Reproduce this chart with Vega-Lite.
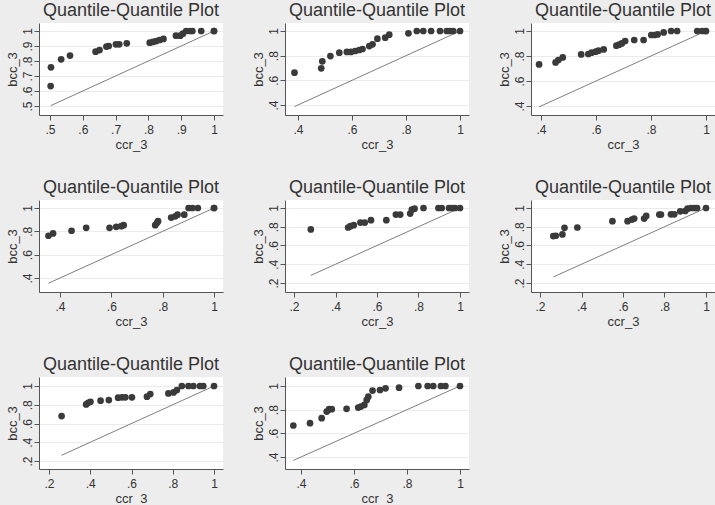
{
  "$schema": "https://vega.github.io/schema/vega-lite/v6.json",
  "background": "#ededed",
  "padding": {"left": 6, "top": 2, "right": 0, "bottom": 0},
  "bounds": "flush",
  "columns": 3,
  "spacing": {"row": 85, "column": 62},
  "config": {
    "font": "Liberation Sans",
    "view": {"fill": "white", "stroke": null},
    "title": {"fontSize": 18, "fontWeight": "normal", "color": "#333333", "offset": 3, "anchor": "middle"},
    "axis": {"domainColor": "#555555", "tickColor": "#555555", "tickSize": 5, "labelFontSize": 12, "titleFontSize": 13, "labelColor": "#333333", "titleColor": "#333333", "titleFontWeight": "normal", "labelPadding": 4, "labelOverlap": false, "labelFlush": false},
    "axisX": {"grid": false, "titlePadding": 3},
    "axisY": {"grid": true, "gridColor": "#ebebeb", "labelAngle": -90, "labelAlign": "center", "labelBaseline": "alphabetic", "labelPadding": 3, "titlePadding": 2}
  },
  "datasets": {
    "pts": [
      {"panel": 1, "ccr_3": 0.502, "bcc_3": 0.633},
      {"panel": 1, "ccr_3": 0.503, "bcc_3": 0.758},
      {"panel": 1, "ccr_3": 0.534, "bcc_3": 0.811},
      {"panel": 1, "ccr_3": 0.561, "bcc_3": 0.836},
      {"panel": 1, "ccr_3": 0.639, "bcc_3": 0.862},
      {"panel": 1, "ccr_3": 0.651, "bcc_3": 0.873},
      {"panel": 1, "ccr_3": 0.672, "bcc_3": 0.896},
      {"panel": 1, "ccr_3": 0.679, "bcc_3": 0.9},
      {"panel": 1, "ccr_3": 0.701, "bcc_3": 0.911},
      {"panel": 1, "ccr_3": 0.711, "bcc_3": 0.911},
      {"panel": 1, "ccr_3": 0.734, "bcc_3": 0.918},
      {"panel": 1, "ccr_3": 0.804, "bcc_3": 0.922},
      {"panel": 1, "ccr_3": 0.814, "bcc_3": 0.927},
      {"panel": 1, "ccr_3": 0.824, "bcc_3": 0.933},
      {"panel": 1, "ccr_3": 0.834, "bcc_3": 0.94},
      {"panel": 1, "ccr_3": 0.846, "bcc_3": 0.947},
      {"panel": 1, "ccr_3": 0.884, "bcc_3": 0.969},
      {"panel": 1, "ccr_3": 0.897, "bcc_3": 0.969},
      {"panel": 1, "ccr_3": 0.905, "bcc_3": 0.982},
      {"panel": 1, "ccr_3": 0.915, "bcc_3": 1.0},
      {"panel": 1, "ccr_3": 0.927, "bcc_3": 1.0},
      {"panel": 1, "ccr_3": 0.934, "bcc_3": 1.0},
      {"panel": 1, "ccr_3": 0.961, "bcc_3": 1.0},
      {"panel": 1, "ccr_3": 1.0, "bcc_3": 1.0},
      {"panel": 1, "ccr_3": 1.0, "bcc_3": 1.0},

      {"panel": 2, "ccr_3": 0.387, "bcc_3": 0.662},
      {"panel": 2, "ccr_3": 0.486, "bcc_3": 0.697},
      {"panel": 2, "ccr_3": 0.49, "bcc_3": 0.754},
      {"panel": 2, "ccr_3": 0.52, "bcc_3": 0.797},
      {"panel": 2, "ccr_3": 0.553, "bcc_3": 0.824},
      {"panel": 2, "ccr_3": 0.581, "bcc_3": 0.83},
      {"panel": 2, "ccr_3": 0.596, "bcc_3": 0.83},
      {"panel": 2, "ccr_3": 0.612, "bcc_3": 0.838},
      {"panel": 2, "ccr_3": 0.627, "bcc_3": 0.846},
      {"panel": 2, "ccr_3": 0.639, "bcc_3": 0.854},
      {"panel": 2, "ccr_3": 0.664, "bcc_3": 0.878},
      {"panel": 2, "ccr_3": 0.676, "bcc_3": 0.892},
      {"panel": 2, "ccr_3": 0.694, "bcc_3": 0.938},
      {"panel": 2, "ccr_3": 0.723, "bcc_3": 0.946},
      {"panel": 2, "ccr_3": 0.738, "bcc_3": 0.97},
      {"panel": 2, "ccr_3": 0.809, "bcc_3": 0.981},
      {"panel": 2, "ccr_3": 0.84, "bcc_3": 1.0},
      {"panel": 2, "ccr_3": 0.864, "bcc_3": 1.0},
      {"panel": 2, "ccr_3": 0.893, "bcc_3": 1.0},
      {"panel": 2, "ccr_3": 0.926, "bcc_3": 1.0},
      {"panel": 2, "ccr_3": 0.951, "bcc_3": 1.0},
      {"panel": 2, "ccr_3": 0.963, "bcc_3": 1.0},
      {"panel": 2, "ccr_3": 0.975, "bcc_3": 1.0},
      {"panel": 2, "ccr_3": 1.0, "bcc_3": 1.0},

      {"panel": 3, "ccr_3": 0.393, "bcc_3": 0.733},
      {"panel": 3, "ccr_3": 0.453, "bcc_3": 0.749},
      {"panel": 3, "ccr_3": 0.463, "bcc_3": 0.768},
      {"panel": 3, "ccr_3": 0.479, "bcc_3": 0.789},
      {"panel": 3, "ccr_3": 0.546, "bcc_3": 0.813},
      {"panel": 3, "ccr_3": 0.572, "bcc_3": 0.816},
      {"panel": 3, "ccr_3": 0.584, "bcc_3": 0.827},
      {"panel": 3, "ccr_3": 0.599, "bcc_3": 0.835},
      {"panel": 3, "ccr_3": 0.609, "bcc_3": 0.843},
      {"panel": 3, "ccr_3": 0.628, "bcc_3": 0.853},
      {"panel": 3, "ccr_3": 0.674, "bcc_3": 0.883},
      {"panel": 3, "ccr_3": 0.684, "bcc_3": 0.891},
      {"panel": 3, "ccr_3": 0.694, "bcc_3": 0.901},
      {"panel": 3, "ccr_3": 0.706, "bcc_3": 0.92},
      {"panel": 3, "ccr_3": 0.739, "bcc_3": 0.928},
      {"panel": 3, "ccr_3": 0.773, "bcc_3": 0.928},
      {"panel": 3, "ccr_3": 0.801, "bcc_3": 0.968},
      {"panel": 3, "ccr_3": 0.813, "bcc_3": 0.968},
      {"panel": 3, "ccr_3": 0.824, "bcc_3": 0.973},
      {"panel": 3, "ccr_3": 0.846, "bcc_3": 0.989},
      {"panel": 3, "ccr_3": 0.873, "bcc_3": 1.0},
      {"panel": 3, "ccr_3": 0.895, "bcc_3": 1.0},
      {"panel": 3, "ccr_3": 0.968, "bcc_3": 1.0},
      {"panel": 3, "ccr_3": 0.986, "bcc_3": 1.0},
      {"panel": 3, "ccr_3": 0.998, "bcc_3": 1.0},
      {"panel": 3, "ccr_3": 1.0, "bcc_3": 1.0},

      {"panel": 4, "ccr_3": 0.355, "bcc_3": 0.762},
      {"panel": 4, "ccr_3": 0.373, "bcc_3": 0.782},
      {"panel": 4, "ccr_3": 0.445, "bcc_3": 0.805},
      {"panel": 4, "ccr_3": 0.502, "bcc_3": 0.83},
      {"panel": 4, "ccr_3": 0.593, "bcc_3": 0.83},
      {"panel": 4, "ccr_3": 0.619, "bcc_3": 0.839},
      {"panel": 4, "ccr_3": 0.639, "bcc_3": 0.844},
      {"panel": 4, "ccr_3": 0.648, "bcc_3": 0.853},
      {"panel": 4, "ccr_3": 0.771, "bcc_3": 0.853},
      {"panel": 4, "ccr_3": 0.778, "bcc_3": 0.873},
      {"panel": 4, "ccr_3": 0.782, "bcc_3": 0.887},
      {"panel": 4, "ccr_3": 0.833, "bcc_3": 0.918},
      {"panel": 4, "ccr_3": 0.849, "bcc_3": 0.929},
      {"panel": 4, "ccr_3": 0.858, "bcc_3": 0.943},
      {"panel": 4, "ccr_3": 0.884, "bcc_3": 0.943},
      {"panel": 4, "ccr_3": 0.901, "bcc_3": 1.0},
      {"panel": 4, "ccr_3": 0.916, "bcc_3": 1.0},
      {"panel": 4, "ccr_3": 0.937, "bcc_3": 1.0},
      {"panel": 4, "ccr_3": 1.0, "bcc_3": 1.0},
      {"panel": 4, "ccr_3": 1.0, "bcc_3": 1.0},

      {"panel": 5, "ccr_3": 0.281, "bcc_3": 0.771},
      {"panel": 5, "ccr_3": 0.461, "bcc_3": 0.792},
      {"panel": 5, "ccr_3": 0.472, "bcc_3": 0.806},
      {"panel": 5, "ccr_3": 0.488, "bcc_3": 0.817},
      {"panel": 5, "ccr_3": 0.52, "bcc_3": 0.845},
      {"panel": 5, "ccr_3": 0.541, "bcc_3": 0.845},
      {"panel": 5, "ccr_3": 0.571, "bcc_3": 0.87},
      {"panel": 5, "ccr_3": 0.645, "bcc_3": 0.87},
      {"panel": 5, "ccr_3": 0.691, "bcc_3": 0.93},
      {"panel": 5, "ccr_3": 0.712, "bcc_3": 0.93},
      {"panel": 5, "ccr_3": 0.76, "bcc_3": 0.94},
      {"panel": 5, "ccr_3": 0.768, "bcc_3": 0.982},
      {"panel": 5, "ccr_3": 0.781, "bcc_3": 0.993},
      {"panel": 5, "ccr_3": 0.824, "bcc_3": 1.0},
      {"panel": 5, "ccr_3": 0.896, "bcc_3": 1.0},
      {"panel": 5, "ccr_3": 0.912, "bcc_3": 1.0},
      {"panel": 5, "ccr_3": 0.947, "bcc_3": 1.0},
      {"panel": 5, "ccr_3": 0.963, "bcc_3": 1.0},
      {"panel": 5, "ccr_3": 0.976, "bcc_3": 1.0},
      {"panel": 5, "ccr_3": 1.0, "bcc_3": 1.0},

      {"panel": 6, "ccr_3": 0.264, "bcc_3": 0.7},
      {"panel": 6, "ccr_3": 0.276, "bcc_3": 0.704},
      {"panel": 6, "ccr_3": 0.308, "bcc_3": 0.718},
      {"panel": 6, "ccr_3": 0.318, "bcc_3": 0.789},
      {"panel": 6, "ccr_3": 0.38, "bcc_3": 0.792},
      {"panel": 6, "ccr_3": 0.549, "bcc_3": 0.859},
      {"panel": 6, "ccr_3": 0.622, "bcc_3": 0.859},
      {"panel": 6, "ccr_3": 0.643, "bcc_3": 0.877},
      {"panel": 6, "ccr_3": 0.654, "bcc_3": 0.887},
      {"panel": 6, "ccr_3": 0.702, "bcc_3": 0.887},
      {"panel": 6, "ccr_3": 0.712, "bcc_3": 0.915},
      {"panel": 6, "ccr_3": 0.775, "bcc_3": 0.93},
      {"panel": 6, "ccr_3": 0.783, "bcc_3": 0.93},
      {"panel": 6, "ccr_3": 0.831, "bcc_3": 0.933},
      {"panel": 6, "ccr_3": 0.847, "bcc_3": 0.933},
      {"panel": 6, "ccr_3": 0.876, "bcc_3": 0.965},
      {"panel": 6, "ccr_3": 0.9, "bcc_3": 0.968},
      {"panel": 6, "ccr_3": 0.911, "bcc_3": 0.993},
      {"panel": 6, "ccr_3": 0.928, "bcc_3": 1.0},
      {"panel": 6, "ccr_3": 0.944, "bcc_3": 1.0},
      {"panel": 6, "ccr_3": 0.957, "bcc_3": 1.0},
      {"panel": 6, "ccr_3": 1.0, "bcc_3": 1.0},

      {"panel": 7, "ccr_3": 0.261, "bcc_3": 0.679},
      {"panel": 7, "ccr_3": 0.38, "bcc_3": 0.804},
      {"panel": 7, "ccr_3": 0.39, "bcc_3": 0.821},
      {"panel": 7, "ccr_3": 0.401, "bcc_3": 0.832},
      {"panel": 7, "ccr_3": 0.45, "bcc_3": 0.843},
      {"panel": 7, "ccr_3": 0.49, "bcc_3": 0.85},
      {"panel": 7, "ccr_3": 0.535, "bcc_3": 0.875},
      {"panel": 7, "ccr_3": 0.554, "bcc_3": 0.879},
      {"panel": 7, "ccr_3": 0.57, "bcc_3": 0.879},
      {"panel": 7, "ccr_3": 0.602, "bcc_3": 0.879},
      {"panel": 7, "ccr_3": 0.675, "bcc_3": 0.886},
      {"panel": 7, "ccr_3": 0.691, "bcc_3": 0.914},
      {"panel": 7, "ccr_3": 0.779, "bcc_3": 0.921},
      {"panel": 7, "ccr_3": 0.804, "bcc_3": 0.932},
      {"panel": 7, "ccr_3": 0.82, "bcc_3": 0.957},
      {"panel": 7, "ccr_3": 0.844, "bcc_3": 1.0},
      {"panel": 7, "ccr_3": 0.876, "bcc_3": 1.0},
      {"panel": 7, "ccr_3": 0.9, "bcc_3": 1.0},
      {"panel": 7, "ccr_3": 0.932, "bcc_3": 1.0},
      {"panel": 7, "ccr_3": 0.948, "bcc_3": 1.0},
      {"panel": 7, "ccr_3": 1.0, "bcc_3": 1.0},

      {"panel": 8, "ccr_3": 0.371, "bcc_3": 0.666},
      {"panel": 8, "ccr_3": 0.434, "bcc_3": 0.686},
      {"panel": 8, "ccr_3": 0.478, "bcc_3": 0.728},
      {"panel": 8, "ccr_3": 0.497, "bcc_3": 0.784},
      {"panel": 8, "ccr_3": 0.506, "bcc_3": 0.804},
      {"panel": 8, "ccr_3": 0.516, "bcc_3": 0.804},
      {"panel": 8, "ccr_3": 0.572, "bcc_3": 0.807},
      {"panel": 8, "ccr_3": 0.616, "bcc_3": 0.818},
      {"panel": 8, "ccr_3": 0.626, "bcc_3": 0.826},
      {"panel": 8, "ccr_3": 0.639, "bcc_3": 0.84},
      {"panel": 8, "ccr_3": 0.648, "bcc_3": 0.882},
      {"panel": 8, "ccr_3": 0.654, "bcc_3": 0.91},
      {"panel": 8, "ccr_3": 0.67, "bcc_3": 0.961},
      {"panel": 8, "ccr_3": 0.698, "bcc_3": 0.966},
      {"panel": 8, "ccr_3": 0.719, "bcc_3": 0.98},
      {"panel": 8, "ccr_3": 0.77, "bcc_3": 0.986},
      {"panel": 8, "ccr_3": 0.843, "bcc_3": 1.0},
      {"panel": 8, "ccr_3": 0.878, "bcc_3": 1.0},
      {"panel": 8, "ccr_3": 0.899, "bcc_3": 1.0},
      {"panel": 8, "ccr_3": 0.928, "bcc_3": 1.0},
      {"panel": 8, "ccr_3": 0.945, "bcc_3": 1.0},
      {"panel": 8, "ccr_3": 1.0, "bcc_3": 1.0}
    ],
    "ref": [
      {"panel": 1, "ccr_3": 0.502, "bcc_3": 0.502}, {"panel": 1, "ccr_3": 1.0, "bcc_3": 1.0},
      {"panel": 2, "ccr_3": 0.387, "bcc_3": 0.387}, {"panel": 2, "ccr_3": 1.0, "bcc_3": 1.0},
      {"panel": 3, "ccr_3": 0.393, "bcc_3": 0.393}, {"panel": 3, "ccr_3": 1.0, "bcc_3": 1.0},
      {"panel": 4, "ccr_3": 0.355, "bcc_3": 0.355}, {"panel": 4, "ccr_3": 1.0, "bcc_3": 1.0},
      {"panel": 5, "ccr_3": 0.281, "bcc_3": 0.281}, {"panel": 5, "ccr_3": 1.0, "bcc_3": 1.0},
      {"panel": 6, "ccr_3": 0.264, "bcc_3": 0.264}, {"panel": 6, "ccr_3": 1.0, "bcc_3": 1.0},
      {"panel": 7, "ccr_3": 0.261, "bcc_3": 0.261}, {"panel": 7, "ccr_3": 1.0, "bcc_3": 1.0},
      {"panel": 8, "ccr_3": 0.371, "bcc_3": 0.371}, {"panel": 8, "ccr_3": 1.0, "bcc_3": 1.0}
    ]
  },
  "concat": [
    {"title": "Quantile-Quantile Plot", "width": 184, "height": 92,
     "layer": [
      {"data": {"name": "ref"}, "transform": [{"filter": "datum.panel == 1"}], "mark": {"type": "line", "color": "#7f7f7f", "strokeWidth": 1},
       "encoding": {"x": {"field": "ccr_3", "type": "quantitative", "scale": {"domain": [0.4665, 1.0274], "nice": false, "zero": false}, "axis": {"title": "ccr_3", "tickCount": 20, "labelOverlap": false, "values": [0.5, 0.6, 0.7, 0.8, 0.9, 1], "labelExpr": "datum.value == 1 ? '1' : replace(format(datum.value, '.1f'), '0.', '.')"}},
                    "y": {"field": "bcc_3", "type": "quantitative", "scale": {"domain": [0.44, 1.0533], "nice": false, "zero": false}, "axis": {"title": "bcc_3", "tickCount": 20, "labelOverlap": false, "values": [0.5, 0.6, 0.7, 0.8, 0.9, 1], "labelExpr": "datum.value == 1 ? '1' : replace(format(datum.value, '.1f'), '0.', '.')"}}}},
      {"data": {"name": "pts"}, "transform": [{"filter": "datum.panel == 1"}], "mark": {"type": "point", "filled": true, "color": "#3a3a3a", "opacity": 1, "size": 45},
       "encoding": {"x": {"field": "ccr_3", "type": "quantitative"}, "y": {"field": "bcc_3", "type": "quantitative"}}}
     ]},
    {"title": "Quantile-Quantile Plot", "width": 184, "height": 92,
     "layer": [
      {"data": {"name": "ref"}, "transform": [{"filter": "datum.panel == 2"}], "mark": {"type": "line", "color": "#7f7f7f", "strokeWidth": 1},
       "encoding": {"x": {"field": "ccr_3", "type": "quantitative", "scale": {"domain": [0.3519, 1.0333], "nice": false, "zero": false}, "axis": {"title": "ccr_3", "tickCount": 20, "labelOverlap": false, "values": [0.4, 0.6, 0.8, 1], "labelExpr": "datum.value == 1 ? '1' : replace(format(datum.value, '.1f'), '0.', '.')"}},
                    "y": {"field": "bcc_3", "type": "quantitative", "scale": {"domain": [0.3189, 1.0649], "nice": false, "zero": false}, "axis": {"title": "bcc_3", "tickCount": 20, "labelOverlap": false, "values": [0.4, 0.6, 0.8, 1], "labelExpr": "datum.value == 1 ? '1' : replace(format(datum.value, '.1f'), '0.', '.')"}}}},
      {"data": {"name": "pts"}, "transform": [{"filter": "datum.panel == 2"}], "mark": {"type": "point", "filled": true, "color": "#3a3a3a", "opacity": 1, "size": 45},
       "encoding": {"x": {"field": "ccr_3", "type": "quantitative"}, "y": {"field": "bcc_3", "type": "quantitative"}}}
     ]},
    {"title": "Quantile-Quantile Plot", "width": 184, "height": 92,
     "layer": [
      {"data": {"name": "ref"}, "transform": [{"filter": "datum.panel == 3"}], "mark": {"type": "line", "color": "#7f7f7f", "strokeWidth": 1},
       "encoding": {"x": {"field": "ccr_3", "type": "quantitative", "scale": {"domain": [0.3636, 1.0327], "nice": false, "zero": false}, "axis": {"title": "ccr_3", "tickCount": 20, "labelOverlap": false, "values": [0.4, 0.6, 0.8, 1], "labelExpr": "datum.value == 1 ? '1' : replace(format(datum.value, '.1f'), '0.', '.')"}},
                    "y": {"field": "bcc_3", "type": "quantitative", "scale": {"domain": [0.328, 1.064], "nice": false, "zero": false}, "axis": {"title": "bcc_3", "tickCount": 20, "labelOverlap": false, "values": [0.4, 0.6, 0.8, 1], "labelExpr": "datum.value == 1 ? '1' : replace(format(datum.value, '.1f'), '0.', '.')"}}}},
      {"data": {"name": "pts"}, "transform": [{"filter": "datum.panel == 3"}], "mark": {"type": "point", "filled": true, "color": "#3a3a3a", "opacity": 1, "size": 45},
       "encoding": {"x": {"field": "ccr_3", "type": "quantitative"}, "y": {"field": "bcc_3", "type": "quantitative"}}}
     ]},
    {"title": "Quantile-Quantile Plot", "width": 184, "height": 92,
     "layer": [
      {"data": {"name": "ref"}, "transform": [{"filter": "datum.panel == 4"}], "mark": {"type": "line", "color": "#7f7f7f", "strokeWidth": 1},
       "encoding": {"x": {"field": "ccr_3", "type": "quantitative", "scale": {"domain": [0.3182, 1.035], "nice": false, "zero": false}, "axis": {"title": "ccr_3", "tickCount": 20, "labelOverlap": false, "values": [0.4, 0.6, 0.8, 1], "labelExpr": "datum.value == 1 ? '1' : replace(format(datum.value, '.1f'), '0.', '.')"}},
                    "y": {"field": "bcc_3", "type": "quantitative", "scale": {"domain": [0.28, 1.0686], "nice": false, "zero": false}, "axis": {"title": "bcc_3", "tickCount": 20, "labelOverlap": false, "values": [0.4, 0.6, 0.8, 1], "labelExpr": "datum.value == 1 ? '1' : replace(format(datum.value, '.1f'), '0.', '.')"}}}},
      {"data": {"name": "pts"}, "transform": [{"filter": "datum.panel == 4"}], "mark": {"type": "point", "filled": true, "color": "#3a3a3a", "opacity": 1, "size": 45},
       "encoding": {"x": {"field": "ccr_3", "type": "quantitative"}, "y": {"field": "bcc_3", "type": "quantitative"}}}
     ]},
    {"title": "Quantile-Quantile Plot", "width": 184, "height": 92,
     "layer": [
      {"data": {"name": "ref"}, "transform": [{"filter": "datum.panel == 5"}], "mark": {"type": "line", "color": "#7f7f7f", "strokeWidth": 1},
       "encoding": {"x": {"field": "ccr_3", "type": "quantitative", "scale": {"domain": [0.1566, 1.0434], "nice": false, "zero": false}, "axis": {"title": "ccr_3", "tickCount": 20, "labelOverlap": false, "values": [0.2, 0.4, 0.6, 0.8, 1], "labelExpr": "datum.value == 1 ? '1' : replace(format(datum.value, '.1f'), '0.', '.')"}},
                    "y": {"field": "bcc_3", "type": "quantitative", "scale": {"domain": [0.104, 1.0853], "nice": false, "zero": false}, "axis": {"title": "bcc_3", "tickCount": 20, "labelOverlap": false, "values": [0.2, 0.4, 0.6, 0.8, 1], "labelExpr": "datum.value == 1 ? '1' : replace(format(datum.value, '.1f'), '0.', '.')"}}}},
      {"data": {"name": "pts"}, "transform": [{"filter": "datum.panel == 5"}], "mark": {"type": "point", "filled": true, "color": "#3a3a3a", "opacity": 1, "size": 45},
       "encoding": {"x": {"field": "ccr_3", "type": "quantitative"}, "y": {"field": "bcc_3", "type": "quantitative"}}}
     ]},
    {"title": "Quantile-Quantile Plot", "width": 184, "height": 92,
     "layer": [
      {"data": {"name": "ref"}, "transform": [{"filter": "datum.panel == 6"}], "mark": {"type": "line", "color": "#7f7f7f", "strokeWidth": 1},
       "encoding": {"x": {"field": "ccr_3", "type": "quantitative", "scale": {"domain": [0.1566, 1.0434], "nice": false, "zero": false}, "axis": {"title": "ccr_3", "tickCount": 20, "labelOverlap": false, "values": [0.2, 0.4, 0.6, 0.8, 1], "labelExpr": "datum.value == 1 ? '1' : replace(format(datum.value, '.1f'), '0.', '.')"}},
                    "y": {"field": "bcc_3", "type": "quantitative", "scale": {"domain": [0.104, 1.0853], "nice": false, "zero": false}, "axis": {"title": "bcc_3", "tickCount": 20, "labelOverlap": false, "values": [0.2, 0.4, 0.6, 0.8, 1], "labelExpr": "datum.value == 1 ? '1' : replace(format(datum.value, '.1f'), '0.', '.')"}}}},
      {"data": {"name": "pts"}, "transform": [{"filter": "datum.panel == 6"}], "mark": {"type": "point", "filled": true, "color": "#3a3a3a", "opacity": 1, "size": 45},
       "encoding": {"x": {"field": "ccr_3", "type": "quantitative"}, "y": {"field": "bcc_3", "type": "quantitative"}}}
     ]},
    {"title": "Quantile-Quantile Plot", "width": 184, "height": 92,
     "layer": [
      {"data": {"name": "ref"}, "transform": [{"filter": "datum.panel == 7"}], "mark": {"type": "line", "color": "#7f7f7f", "strokeWidth": 1},
       "encoding": {"x": {"field": "ccr_3", "type": "quantitative", "scale": {"domain": [0.1515, 1.0436], "nice": false, "zero": false}, "axis": {"title": "ccr_3", "tickCount": 20, "labelOverlap": false, "values": [0.2, 0.4, 0.6, 0.8, 1], "labelExpr": "datum.value == 1 ? '1' : replace(format(datum.value, '.1f'), '0.', '.')"}},
                    "y": {"field": "bcc_3", "type": "quantitative", "scale": {"domain": [0.1147, 1.096], "nice": false, "zero": false}, "axis": {"title": "bcc_3", "tickCount": 20, "labelOverlap": false, "values": [0.2, 0.4, 0.6, 0.8, 1], "labelExpr": "datum.value == 1 ? '1' : replace(format(datum.value, '.1f'), '0.', '.')"}}}},
      {"data": {"name": "pts"}, "transform": [{"filter": "datum.panel == 7"}], "mark": {"type": "point", "filled": true, "color": "#3a3a3a", "opacity": 1, "size": 45},
       "encoding": {"x": {"field": "ccr_3", "type": "quantitative"}, "y": {"field": "bcc_3", "type": "quantitative"}}}
     ]},
    {"title": "Quantile-Quantile Plot", "width": 184, "height": 92,
     "layer": [
      {"data": {"name": "ref"}, "transform": [{"filter": "datum.panel == 8"}], "mark": {"type": "line", "color": "#7f7f7f", "strokeWidth": 1},
       "encoding": {"x": {"field": "ccr_3", "type": "quantitative", "scale": {"domain": [0.3396, 1.034], "nice": false, "zero": false}, "axis": {"title": "ccr_3", "tickCount": 20, "labelOverlap": false, "values": [0.4, 0.6, 0.8, 1], "labelExpr": "datum.value == 1 ? '1' : replace(format(datum.value, '.1f'), '0.', '.')"}},
                    "y": {"field": "bcc_3", "type": "quantitative", "scale": {"domain": [0.2986, 1.076], "nice": false, "zero": false}, "axis": {"title": "bcc_3", "tickCount": 20, "labelOverlap": false, "values": [0.4, 0.6, 0.8, 1], "labelExpr": "datum.value == 1 ? '1' : replace(format(datum.value, '.1f'), '0.', '.')"}}}},
      {"data": {"name": "pts"}, "transform": [{"filter": "datum.panel == 8"}], "mark": {"type": "point", "filled": true, "color": "#3a3a3a", "opacity": 1, "size": 45},
       "encoding": {"x": {"field": "ccr_3", "type": "quantitative"}, "y": {"field": "bcc_3", "type": "quantitative"}}}
     ]}
  ]
}
